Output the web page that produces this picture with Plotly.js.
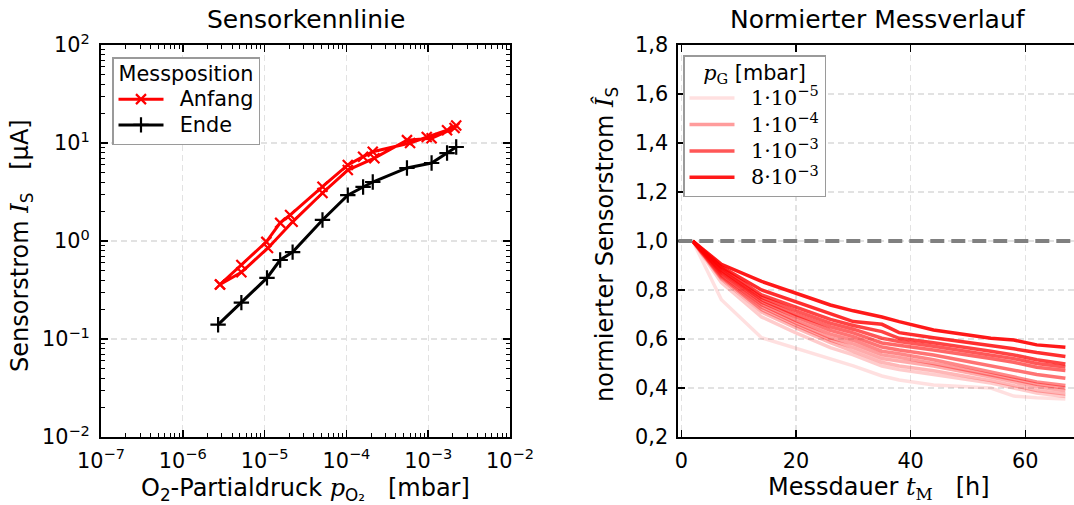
<!DOCTYPE html>
<html>
<head>
<meta charset="utf-8">
<script src="https://cdn.plot.ly/plotly-3.0.1.min.js"></script>
<style>html,body{margin:0;padding:0;background:#fff;}#chart{width:1074px;height:505px;}</style>
</head>
<body>
<div id="chart"></div>
<script>
// ---------- Left: Sensorkennlinie ----------
const anfangX = [2.85e-6, 5.2e-6, 1.05e-5, 1.55e-5, 2.05e-5, 5.1e-5, 1.04e-4, 1.6e-4, 2.1e-4, 6.0e-4, 9.6e-4, 1.7e-3, 2.2e-3,
                 2.1e-3, 1.1e-3, 5.5e-4, 2.2e-4, 1.04e-4, 5.1e-5, 2.2e-5, 1.1e-5, 5.2e-6, 2.85e-6];
const anfangY = [0.36, 0.57, 0.98, 1.53, 1.84, 3.58, 5.97, 7.25, 8.15, 10.0, 11.5, 13.5, 15.1,
                 14.2, 11.2, 10.7, 7.0, 5.3, 3.09, 1.57, 0.85, 0.48, 0.36];
const endeX = [2.7e-6, 5.2e-6, 1.07e-5, 1.55e-5, 2.2e-5, 5.1e-5, 1.04e-4, 1.6e-4, 2.1e-4, 5.5e-4, 1.1e-3, 1.7e-3, 2.2e-3];
const endeY = [0.14, 0.235, 0.42, 0.64, 0.77, 1.64, 2.94, 3.56, 4.0, 5.56, 6.25, 7.9, 9.1];
const seriesNames = ['Anfang', 'Ende'];

const leftXTickVals = [1e-7, 1e-6, 1e-5, 1e-4, 1e-3, 1e-2];
const leftXTickText = ['10<sup>−7</sup>', '10<sup>−6</sup>', '10<sup>−5</sup>', '10<sup>−4</sup>', '10<sup>−3</sup>', '10<sup>−2</sup>'];
const leftYTickVals = [1e-2, 1e-1, 1, 10, 100];
const leftYTickText = ['10<sup>−2</sup>', '10<sup>−1</sup>', '10<sup>0</sup>', '10<sup>1</sup>', '10<sup>2</sup>'];

// ---------- Right: Normierter Messverlauf ----------
const timeH = [2, 7, 14, 20, 26, 30, 35, 38, 44, 54, 58, 62, 67];
const pressures = [1e-5, 2e-5, 4e-5, 6e-5, 1e-4, 2e-4, 4e-4, 6e-4, 1e-3, 2e-3, 4e-3, 8e-3];
const pressureLabels = ['1·10<sup>−5</sup>', '2·10<sup>−5</sup>', '4·10<sup>−5</sup>', '6·10<sup>−5</sup>',
                        '1·10<sup>−4</sup>', '2·10<sup>−4</sup>', '4·10<sup>−4</sup>', '6·10<sup>−4</sup>',
                        '1·10<sup>−3</sup>', '2·10<sup>−3</sup>', '4·10<sup>−3</sup>', '8·10<sup>−3</sup>'];
const legendShown = [true, false, false, false, true, false, false, false, true, false, false, true];
const norm1e5 = [1.0, 0.76, 0.605, 0.562, 0.521, 0.49, 0.449, 0.433, 0.412, 0.40, 0.367, 0.36, 0.355];
const norm2e5 = [1.0, 0.83, 0.69, 0.625, 0.565, 0.535, 0.49, 0.475, 0.455, 0.42, 0.40, 0.38, 0.365];
const norm4e5 = [1.0, 0.845, 0.71, 0.645, 0.585, 0.55, 0.505, 0.49, 0.47, 0.43, 0.41, 0.39, 0.375];
const norm6e5 = [1.0, 0.85, 0.72, 0.655, 0.595, 0.565, 0.52, 0.51, 0.49, 0.445, 0.425, 0.405, 0.389];
const norm1e4 = [1.0, 0.855, 0.73, 0.665, 0.605, 0.58, 0.535, 0.525, 0.50, 0.455, 0.435, 0.415, 0.40];
const norm2e4 = [1.0, 0.86, 0.74, 0.675, 0.62, 0.595, 0.55, 0.54, 0.515, 0.465, 0.445, 0.425, 0.41];
const norm4e4 = [1.0, 0.87, 0.75, 0.69, 0.635, 0.61, 0.567, 0.555, 0.535, 0.49, 0.475, 0.455, 0.44];
const norm6e4 = [1.0, 0.875, 0.76, 0.70, 0.65, 0.625, 0.584, 0.575, 0.555, 0.52, 0.505, 0.485, 0.471];
const norm1e3 = [1.0, 0.88, 0.77, 0.715, 0.665, 0.64, 0.603, 0.59, 0.57, 0.535, 0.52, 0.50, 0.486];
const norm2e3 = [1.0, 0.89, 0.78, 0.73, 0.68, 0.655, 0.63, 0.603, 0.585, 0.55, 0.535, 0.515, 0.498];
const norm4e3 = [1.0, 0.895, 0.80, 0.752, 0.706, 0.671, 0.66, 0.626, 0.605, 0.575, 0.56, 0.545, 0.529];
const norm8e3 = [1.0, 0.905, 0.835, 0.787, 0.739, 0.715, 0.69, 0.671, 0.637, 0.603, 0.596, 0.576, 0.566];
const normSeries = [norm1e5, norm2e5, norm4e5, norm6e5, norm1e4, norm2e4, norm4e4, norm6e4, norm1e3, norm2e3, norm4e3, norm8e3];
const referenceLevel = 1.0;

const SANS = 'DejaVu Sans';
const SERIF = 'DejaVu Serif';
const FS = 20.8;   // tick labels, legend text
const LS = 24;     // axis labels
const TS = 25;     // titles
const LEG_LINE = 17.5; // legend line height basis
const NB = '\u00a0';

const big = (txt, fam) => `<span style="font-size:${FS}px${fam ? ';font-family:' + fam : ''}">${txt}</span>`;

const traces = [];
traces.push({
  x: anfangX, y: anfangY, xaxis: 'x', yaxis: 'y', type: 'scatter', mode: 'lines+markers',
  name: NB + NB + big(seriesNames[0]), legend: 'legend',
  line: {color: '#ff0000', width: 3},
  marker: {symbol: 'x-thin', size: 10, color: '#ff0000', line: {color: '#ff0000', width: 2.2}}
});
traces.push({
  x: endeX, y: endeY, xaxis: 'x', yaxis: 'y', type: 'scatter', mode: 'lines+markers',
  name: NB + NB + big(seriesNames[1]), legend: 'legend',
  line: {color: '#000000', width: 3},
  marker: {symbol: 'cross-thin', size: 11, color: '#000000', line: {color: '#000000', width: 2.2}}
});

const lp0 = Math.log10(pressures[0]);
const lp1 = Math.log10(pressures[pressures.length - 1]);
normSeries.forEach((vals, i) => {
  const a = 0.12 + 0.78 * (Math.log10(pressures[i]) - lp0) / (lp1 - lp0);
  traces.push({
    x: timeH, y: vals, xaxis: 'x2', yaxis: 'y2', type: 'scatter', mode: 'lines',
    name: NB + NB + big(pressureLabels[i], SERIF), legend: 'legend2', showlegend: legendShown[i],
    line: {color: `rgba(255,0,0,${a.toFixed(3)})`, width: 3.5}
  });
});

const yDom = [1 - 437 / 505, 1 - 45 / 505];
const gridStyle = {showgrid: true, gridcolor: '#e2e2e2', gridwidth: 1.3, griddash: '6px,4px'};
const axBase = Object.assign({
  showline: true, linecolor: '#000', linewidth: 2, ticks: 'inside', ticklen: 7, tickwidth: 1.5, tickcolor: '#000',
  zeroline: false, tickfont: {family: SANS, size: FS, color: '#000'}
}, gridStyle);
const minorTicks = {ticks: 'inside', ticklen: 4, tickwidth: 1, tickcolor: '#000', showgrid: false, dtick: 'D1'};

const layout = {
  width: 1074, height: 505, autosize: false,
  margin: {l: 0, r: 0, t: 0, b: 0},
  paper_bgcolor: '#fff', plot_bgcolor: '#fff',
  separators: ',.',
  font: {family: SANS, size: FS, color: '#000'},
  xaxis: Object.assign({}, axBase, {
    type: 'log', range: [-7, -2], domain: [101 / 1074, 510 / 1074], anchor: 'y', mirror: 'allticks',
    tickmode: 'array', tickvals: leftXTickVals, ticktext: leftXTickText, ticklabelstandoff: 4,
    minor: minorTicks
  }),
  yaxis: Object.assign({}, axBase, {
    type: 'log', range: [-2, 2], domain: yDom, anchor: 'x', mirror: 'allticks',
    tickmode: 'array', tickvals: leftYTickVals, ticktext: leftYTickText, ticklabelstandoff: 5,
    minor: minorTicks
  }),
  xaxis2: Object.assign({}, axBase, {
    range: [-0.52, 68.5], domain: [678.3 / 1074, 1], anchor: 'y2', mirror: 'ticks',
    tick0: 0, dtick: 20, ticklabelstandoff: 4
  }),
  yaxis2: Object.assign({}, axBase, {
    range: [0.2, 1.8], domain: yDom, anchor: 'x2', mirror: false,
    tick0: 0.2, dtick: 0.2, tickformat: '.1f', ticklabelstandoff: 4
  }),
  legend: {
    x: 112 / 1074, y: 1 - 57 / 505, xanchor: 'left', yanchor: 'top',
    bgcolor: '#fff', bordercolor: '#9a9a9a', borderwidth: 1.5,
    font: {family: SANS, size: LEG_LINE, color: '#000'},
    title: {text: big('Messposition'), font: {family: SANS, size: LEG_LINE}, side: 'top center'},
    itemwidth: 45, tracegroupgap: 0
  },
  legend2: {
    x: 683 / 1074, y: 1 - 55 / 505, xanchor: 'left', yanchor: 'top',
    bgcolor: '#fff', bordercolor: '#9a9a9a', borderwidth: 1.5,
    font: {family: SERIF, size: 18, color: '#000'},
    title: {text: big(`<span style="font-family:${SERIF}"><i>p</i><sub>G</sub></span> [mbar]`), font: {family: SANS, size: 18}, side: 'top center'},
    itemwidth: 45, tracegroupgap: 0
  },
  shapes: [{
    type: 'line', xref: 'x2 domain', yref: 'y2', x0: 0, x1: 1, y0: referenceLevel, y1: referenceLevel,
    line: {color: '#808080', width: 4, dash: '14px,7px'}, layer: 'above'
  }],
  annotations: [
    {text: 'Sensorkennlinie', xref: 'paper', yref: 'paper', x: 305.5 / 1074, y: 1 - 19 / 505, xanchor: 'center', yanchor: 'middle', showarrow: false, font: {size: TS}},
    {text: 'Normierter Messverlauf', xref: 'paper', yref: 'paper', x: 878 / 1074, y: 1 - 19 / 505, xanchor: 'center', yanchor: 'middle', showarrow: false, font: {size: TS}},
    {text: `O<sub>2</sub>-Partialdruck <span style="font-family:${SERIF}"><i>p</i></span><sub>O₂</sub>${NB}${NB}${NB}[mbar]`, xref: 'paper', yref: 'paper', x: 305 / 1074, y: 1 - 489 / 505, xanchor: 'center', yanchor: 'middle', showarrow: false, font: {size: LS}},
    {text: `Sensorstrom <span style="font-family:${SERIF}"><i>I</i></span><sub>S</sub>${NB}${NB}${NB}[µA]`, xref: 'paper', yref: 'paper', x: 21 / 1074, y: 1 - 246 / 505, xanchor: 'center', yanchor: 'middle', textangle: -90, showarrow: false, font: {size: LS}},
    {text: `Messdauer <span style="font-family:${SERIF}"><i>t</i></span><sub><span style="font-family:${SERIF}">M</span></sub>${NB}${NB}${NB}[h]`, xref: 'paper', yref: 'paper', x: 879 / 1074, y: 1 - 488 / 505, xanchor: 'center', yanchor: 'middle', showarrow: false, font: {size: LS}},
    {text: `normierter Sensorstrom <span style="font-family:${SERIF}"><i>Î</i></span><sub>S</sub>`, xref: 'paper', yref: 'paper', x: 606 / 1074, y: 1 - 245 / 505, xanchor: 'center', yanchor: 'middle', textangle: -90, showarrow: false, font: {size: LS}}
  ]
};

Plotly.newPlot('chart', traces, layout, {staticPlot: true, displayModeBar: false});
</script>
</body>
</html>
